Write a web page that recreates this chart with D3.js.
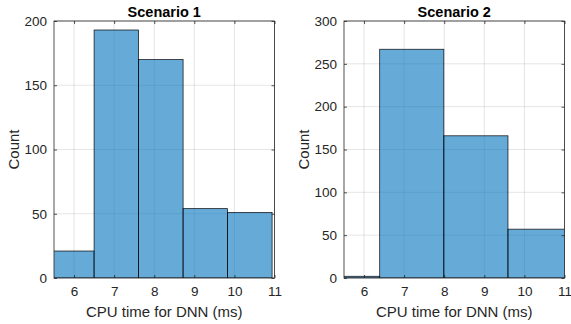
<!DOCTYPE html>
<html><head><meta charset="utf-8">
<script src="https://cdn.jsdelivr.net/npm/d3@7"></script>
<style>body{margin:0;background:#fff}svg{display:block}</style>
</head><body>
<svg id="c" width="571" height="324"></svg>
<script>
// Data
const titles = ["Scenario 1", "Scenario 2"];
const binEdges1 = [5.39, 6.5, 7.61, 8.72, 9.83, 10.94];
const counts1 = [21, 193, 170, 54, 51];
const binEdges2 = [4.79, 6.39, 7.99, 9.59, 11.19];
const counts2 = [2, 267, 166, 57];
const xTicks = [6, 7, 8, 9, 10, 11];
const yTicks1 = [0, 50, 100, 150, 200];
const yTicks2 = [0, 50, 100, 150, 200, 250, 300];
const xLabel = "CPU time for DNN (ms)";
const yLabel = "Count";

const svg = d3.select("#c");
const axisColor = "#262626";
const font = "'Liberation Sans', Arial, Helvetica, sans-serif";

function panel(left, edges, counts, yTicks, title) {
  const top = 21, bottom = 278, width = 220.5;
  const x = d3.scaleLinear().domain([5.5, 11]).range([left, left + width]);
  const y = d3.scaleLinear().domain([0, yTicks[yTicks.length-1]]).range([bottom, top]);
  const g = svg.append("g");
  const clipId = "clip" + Math.round(left);
  g.append("clipPath").attr("id", clipId).append("rect")
    .attr("x", left).attr("y", top).attr("width", width).attr("height", bottom - top);
  // grid
  g.selectAll(".gx").data(xTicks).enter().append("line")
    .attr("x1", d => x(d)).attr("x2", d => x(d)).attr("y1", top).attr("y2", bottom)
    .attr("stroke", "#262626").attr("stroke-opacity", 0.15).attr("stroke-width", 0.8);
  g.selectAll(".gy").data(yTicks).enter().append("line")
    .attr("y1", d => y(d)).attr("y2", d => y(d)).attr("x1", left).attr("x2", left + width)
    .attr("stroke", "#262626").attr("stroke-opacity", 0.15).attr("stroke-width", 0.8);
  // bars
  const bars = counts.map((c, i) => ({x0: edges[i], x1: edges[i+1], c}));
  g.append("g").attr("clip-path", `url(#${clipId})`).selectAll("rect").data(bars).enter().append("rect")
    .attr("x", d => x(d.x0)).attr("width", d => x(d.x1) - x(d.x0))
    .attr("y", d => y(d.c)).attr("height", d => y(0) - y(d.c))
    .attr("fill", "rgb(0,114,189)").attr("fill-opacity", 0.6)
    .attr("stroke", "#000").attr("stroke-width", 0.8).attr("stroke-opacity", 0.85);
  // box
  g.append("rect").attr("x", left).attr("y", top).attr("width", width).attr("height", bottom - top)
    .attr("fill", "none").attr("stroke", axisColor).attr("stroke-width", 0.8);
  // axes (ticks inward)
  const xa = d3.axisBottom(x).tickValues(xTicks).tickSize(-3).tickPadding(8).tickFormat(d3.format("d"));
  g.append("g").attr("transform", `translate(0,${bottom})`).call(xa);
  const xt = d3.axisTop(x).tickValues(xTicks).tickSize(-3).tickFormat("");
  g.append("g").attr("transform", `translate(0,${top})`).call(xt);
  const ya = d3.axisLeft(y).tickValues(yTicks).tickSize(-3).tickPadding(7).tickFormat(d3.format("d"));
  g.append("g").attr("transform", `translate(${left},0)`).call(ya);
  const yr = d3.axisRight(y).tickValues(yTicks).tickSize(-3).tickFormat("");
  g.append("g").attr("transform", `translate(${left+width},0)`).call(yr);
  g.selectAll(".domain").remove();
  g.selectAll(".tick line").attr("stroke", axisColor).attr("stroke-width", 0.8);
  g.selectAll(".tick text").attr("fill", axisColor).attr("font-family", font).attr("font-size", 13.5);
  // title
  g.append("text").attr("x", left + width/2).attr("y", 17).attr("text-anchor", "middle")
    .attr("font-family", font).attr("font-weight", "bold").attr("font-size", 14.5).attr("fill", "#000").text(title);
  g.append("text").attr("x", left + width/2).attr("y", 317).attr("text-anchor", "middle")
    .attr("font-family", font).attr("font-size", 15).attr("fill", axisColor).text(xLabel);
  g.append("text").attr("transform", `translate(${left-35},${(top+bottom)/2}) rotate(-90)`)
    .attr("text-anchor", "middle").attr("font-family", font).attr("font-size", 15).attr("fill", axisColor).text(yLabel);
}
panel(54, binEdges1, counts1, yTicks1, titles[0]);
panel(344, binEdges2, counts2, yTicks2, titles[1]);
</script>
</body></html>
